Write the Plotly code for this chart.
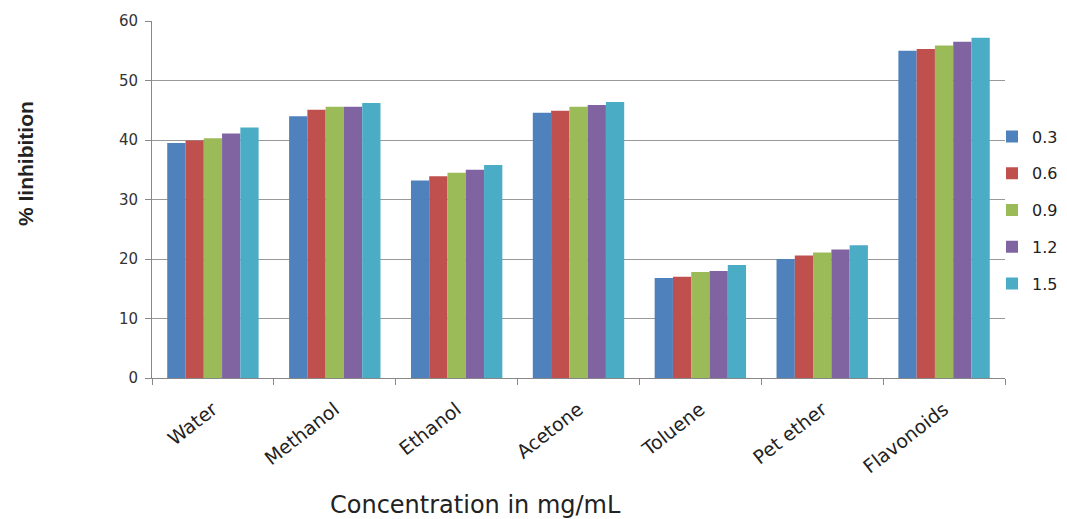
import plotly.graph_objects as go

categories = ["Water", "Methanol", "Ethanol", "Acetone", "Toluene", "Pet ether", "Flavonoids"]
series_names = ["0.3", "0.6", "0.9", "1.2", "1.5"]
vals_03 = [39.5, 44.0, 33.2, 44.6, 16.8, 20.0, 55.0]
vals_06 = [39.9, 45.1, 33.9, 44.9, 17.0, 20.6, 55.3]
vals_09 = [40.3, 45.6, 34.5, 45.6, 17.8, 21.1, 55.9]
vals_12 = [41.1, 45.6, 35.0, 45.9, 18.0, 21.6, 56.5]
vals_15 = [42.1, 46.2, 35.8, 46.4, 19.0, 22.3, 57.2]
y_ticks = [0, 10, 20, 30, 40, 50, 60]

series_vals = [vals_03, vals_06, vals_09, vals_12, vals_15]
colors = ["#4F81BD", "#C0504D", "#9BBB59", "#8064A2", "#4BACC6"]

fig = go.Figure()
for i, (name, vals) in enumerate(zip(series_names, series_vals)):
    fig.add_trace(go.Bar(x=categories, y=vals, name=name, marker_color=colors[i],
                         marker_line_width=0, legendgroup=name))

fig.update_layout(
    width=1067, height=519,
    margin=dict(l=152, r=62, t=21, b=141, autoexpand=False),
    paper_bgcolor="white", plot_bgcolor="white",
    barmode="group", bargap=0.25, bargroupgap=0,
    font=dict(family="DejaVu Sans", color="#333333"),
    legend=dict(x=(992 - 152) / 853, y=(378 - 210) / 357, xanchor="left", yanchor="middle",
                font=dict(family="DejaVu Sans", size=16, color="#222222"),
                tracegroupgap=13, itemwidth=30, bgcolor="rgba(0,0,0,0)"),
    xaxis=dict(showline=True, linecolor="#888888", linewidth=1,
               ticks="outside", tickson="boundaries", ticklen=6, tickcolor="#888888",
               tickangle=-38, ticklabelstandoff=12,
               tickfont=dict(family="DejaVu Sans", size=19, color="#222222"),
               showgrid=False),
    yaxis=dict(range=[0, 60], tickvals=y_ticks, showline=True, linecolor="#888888",
               linewidth=1, ticks="outside", ticklen=6, tickcolor="#888888",
               ticklabelstandoff=4,
               gridcolor="#999999", gridwidth=1,
               tickfont=dict(family="DejaVu Sans", size=15, color="#333333")),
    showlegend=True,
)

fig.add_annotation(text="<b>% Iinhibition</b>", xref="paper", yref="paper",
                   x=(25 - 152) / 853, y=(378 - 164) / 357, textangle=-90,
                   showarrow=False, xanchor="center", yanchor="middle",
                   font=dict(family="Liberation Sans", size=21, color="#222222"))
fig.add_annotation(text="Concentration in mg/mL", xref="paper", yref="paper",
                   x=(475 - 152) / 853, y=(378 - 505) / 357,
                   showarrow=False, xanchor="center", yanchor="middle",
                   font=dict(family="DejaVu Sans", size=24, color="#222222"))

fig.write_html("out.html")
